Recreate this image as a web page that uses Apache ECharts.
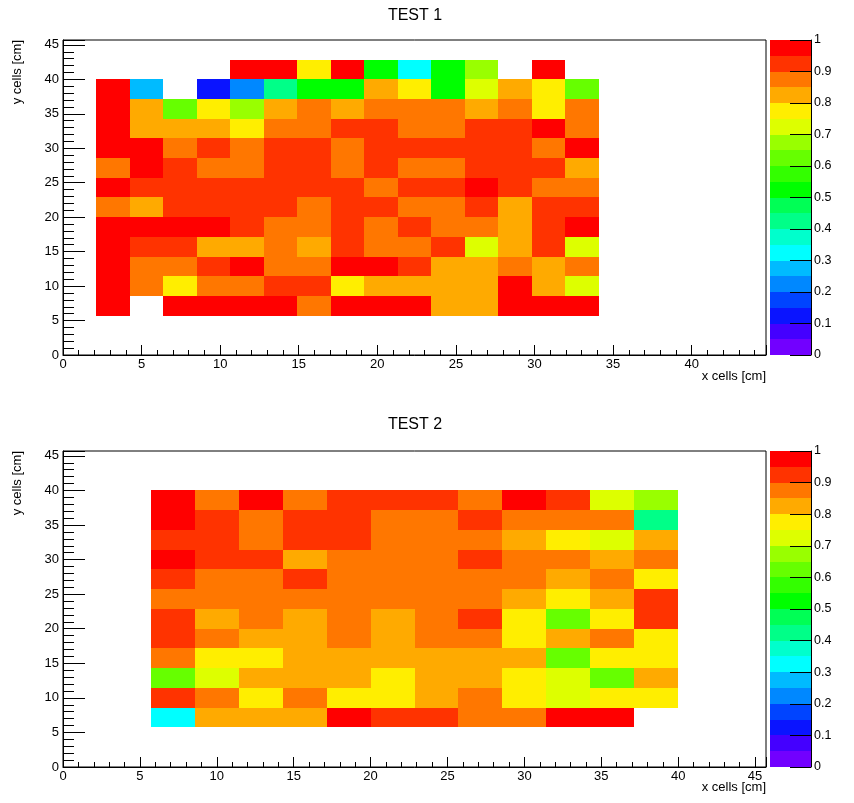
<!DOCTYPE html>
<html>
<head>
<meta charset="utf-8">
<script src="https://cdn.jsdelivr.net/npm/echarts@6/dist/echarts.min.js"></script>
<style>
html, body { margin: 0; padding: 0; background: #fff; }
#main { width: 854px; height: 803px; }
</style>
</head>
<body>
<div id="main"></div>
<script>
// palette bands, bottom (0) to top (1), 20 contours
var bandLow = [0, 0.05, 0.1, 0.15, 0.2, 0.25, 0.3, 0.35, 0.4, 0.45,
               0.5, 0.55, 0.6, 0.65, 0.7, 0.75, 0.8, 0.85, 0.9, 0.95];
var palette = ['#7200ff', '#4400ff', '#0a14ff', '#0044ff', '#0088ff',
               '#00bbff', '#00ffff', '#00ffcc', '#00ff88', '#00ff55',
               '#00ff00', '#33ff00', '#66ff00', '#99ff00', '#ddff00',
               '#ffee00', '#ffaa00', '#ff7700', '#ff3300', '#ff0000'];

// TEST 1: 15 columns, 13 rows (listed top row first)
var test1Rows = [
  [null, null, null, null, .97, .97, .78, .97, .53, .33, .53, .68, null, .97, null],
  [.97, .28, null, .13, .23, .43, .53, .53, .83, .78, .53, .73, .83, .78, .63],
  [.97, .83, .63, .78, .68, .83, .88, .83, .88, .88, .88, .83, .88, .78, .88],
  [.97, .83, .83, .83, .78, .88, .88, .93, .93, .88, .88, .93, .93, .97, .88],
  [.97, .97, .88, .93, .88, .93, .93, .88, .93, .93, .93, .93, .93, .88, .97],
  [.88, .97, .93, .88, .88, .93, .93, .88, .93, .88, .88, .93, .93, .93, .83],
  [.97, .93, .93, .93, .93, .93, .93, .93, .88, .93, .93, .97, .93, .88, .88],
  [.88, .83, .93, .93, .93, .93, .88, .93, .93, .88, .88, .93, .83, .93, .93],
  [.97, .97, .97, .97, .93, .88, .88, .93, .88, .93, .88, .88, .83, .93, .97],
  [.97, .93, .93, .83, .83, .88, .83, .93, .88, .88, .93, .73, .83, .93, .73],
  [.97, .88, .88, .93, .97, .88, .88, .97, .97, .93, .83, .83, .88, .83, .88],
  [.97, .88, .78, .88, .88, .93, .93, .78, .83, .83, .83, .83, .97, .83, .73],
  [.97, null, .97, .97, .97, .97, .88, .97, .97, .97, .83, .83, .97, .97, .97]
];

// TEST 2: 12 columns, 12 rows (listed top row first)
var test2Rows = [
  [.97, .88, .97, .88, .93, .93, .93, .88, .97, .93, .73, .68],
  [.97, .93, .88, .93, .93, .88, .88, .93, .88, .88, .88, .43],
  [.93, .93, .88, .93, .93, .88, .88, .88, .83, .78, .73, .83],
  [.97, .93, .93, .83, .88, .88, .88, .93, .88, .88, .83, .88],
  [.93, .88, .88, .93, .88, .88, .88, .88, .88, .83, .88, .78],
  [.88, .88, .88, .88, .88, .88, .88, .88, .83, .78, .83, .93],
  [.93, .83, .88, .83, .88, .83, .88, .93, .78, .63, .78, .93],
  [.93, .88, .83, .83, .88, .83, .88, .88, .78, .83, .88, .78],
  [.88, .78, .78, .83, .83, .83, .83, .83, .83, .63, .78, .78],
  [.63, .73, .83, .83, .83, .78, .83, .83, .78, .73, .63, .83],
  [.93, .88, .78, .88, .78, .78, .83, .88, .78, .73, .78, .78],
  [.33, .83, .83, .83, .97, .93, .93, .88, .88, .97, .97, null]
];

// histogram binning (cm)
var test1XMax = 44.73, test1XBin = 44.73 / 21;
var test2XMax = 45.71;
var yMax = 45.71, yBin = 40 / 14;

function buildCells(rows, x0, y0, dx, dy) {
  var out = [];
  var n = rows.length;
  rows.forEach(function (row, r) {
    row.forEach(function (v, c) {
      if (v == null) return;
      out.push([x0 + c * dx, y0 + (n - 1 - r) * dy, v, dx, dy]);
    });
  });
  return out;
}

var test1Cells = buildCells(test1Rows, test1XBin, 2 * yBin, test1XBin, yBin);
var test2Cells = buildCells(test2Rows, 2 * yBin, 2 * yBin, yBin, yBin);
var barCells = bandLow.map(function (lo) { return [0, lo, lo + 0.025, 1, 0.05]; });

function renderCell(params, api) {
  var a = api.coord([api.value(0), api.value(1) + api.value(4)]);
  var b = api.coord([api.value(0) + api.value(3), api.value(1)]);
  var x = Math.round(a[0]), y = Math.round(a[1]);
  return {
    type: 'rect',
    shape: { x: x, y: y, width: Math.round(b[0]) - x, height: Math.round(b[1]) - y },
    style: { fill: api.visual('color') }
  };
}

var font = '"Liberation Sans", Arial, Helvetica, sans-serif';
var labelStyle = { color: '#000', fontSize: 13, fontFamily: font };

function every5(v) {
  return Math.abs(v - Math.round(v / 5) * 5) < 1e-6 ? String(Math.round(v)) : '';
}

function majorX(grid, max) {
  return {
    gridIndex: grid, type: 'value', position: 'bottom', min: 0, max: max, interval: 5,
    axisLine: { onZero: false, lineStyle: { color: '#000', width: 1 } },
    axisTick: { inside: true, length: 10, lineStyle: { color: '#000' } },
    axisLabel: Object.assign({ margin: 3, formatter: every5 }, labelStyle),
    splitLine: { show: false }
  };
}
function minorX(grid, max) {
  return {
    gridIndex: grid, type: 'value', position: 'bottom', min: 0, max: max, interval: 1,
    axisLine: { show: false, onZero: false },
    axisTick: { inside: true, length: 5, lineStyle: { color: '#000' } },
    axisLabel: { show: false }, splitLine: { show: false }
  };
}
function majorY(grid) {
  return {
    gridIndex: grid, type: 'value', position: 'left', min: 0, max: yMax, interval: 5,
    axisLine: { show: true, onZero: false, lineStyle: { color: '#000', width: 1 } },
    axisTick: { show: true, inside: true, length: 22, lineStyle: { color: '#000' } },
    axisLabel: Object.assign({ margin: 4, formatter: every5 }, labelStyle),
    splitLine: { show: false }
  };
}
function minorY(grid) {
  return {
    gridIndex: grid, type: 'value', position: 'left', min: 0, max: yMax, interval: 1,
    axisLine: { show: false, onZero: false },
    axisTick: { show: true, inside: true, length: 11, lineStyle: { color: '#000' } },
    axisLabel: { show: false }, splitLine: { show: false }
  };
}
function barX(grid) {
  return { gridIndex: grid, type: 'value', position: 'bottom', min: 0, max: 1, show: false,
           axisLine: { onZero: false } };
}
function barY(grid) {
  return {
    gridIndex: grid, type: 'value', min: 0, max: 1, interval: 0.1, position: 'right', z: 10,
    axisLine: { show: true, onZero: false, lineStyle: { color: '#000', width: 1 } },
    axisTick: { show: true, inside: true, length: 21, lineStyle: { color: '#000' } },
    axisLabel: Object.assign({ margin: 3 }, labelStyle, { fontSize: 12.5 }),
    splitLine: { show: false }
  };
}

var frame = { show: true, borderColor: '#000', borderWidth: 1, backgroundColor: '#fff', outerBoundsMode: 'none' };

var myChart = echarts.init(document.getElementById('main'));

var option = {
  animation: false,
  backgroundColor: '#fff',
  grid: [
    Object.assign({ left: 63, top: 40, width: 703, height: 315 }, frame),
    Object.assign({ left: 63, top: 451, width: 703, height: 316 }, frame),
    { left: 770, top: 40, width: 41, height: 315, outerBoundsMode: 'none' },
    { left: 770, top: 451, width: 41, height: 316, outerBoundsMode: 'none' }
  ],
  xAxis: [
    majorX(0, test1XMax), minorX(0, test1XMax),
    majorX(1, test2XMax), minorX(1, test2XMax),
    barX(2), barX(3)
  ],
  yAxis: [
    majorY(0), minorY(0),
    majorY(1), minorY(1),
    barY(2), barY(3)
  ],
  visualMap: {
    type: 'piecewise', show: false, dimension: 2, seriesIndex: [0, 1, 2, 3],
    pieces: bandLow.map(function (lo, i) {
      var p = { gte: lo, color: palette[i] };
      if (i < bandLow.length - 1) p.lt = bandLow[i + 1]; else p.lte = 1;
      return p;
    })
  },
  series: [
    { name: 'TEST 1', type: 'custom', xAxisIndex: 0, yAxisIndex: 0, renderItem: renderCell, data: test1Cells },
    { name: 'TEST 2', type: 'custom', xAxisIndex: 2, yAxisIndex: 2, renderItem: renderCell, data: test2Cells },
    { type: 'custom', xAxisIndex: 4, yAxisIndex: 4, renderItem: renderCell, data: barCells, z: 1 },
    { type: 'custom', xAxisIndex: 5, yAxisIndex: 5, renderItem: renderCell, data: barCells, z: 1 }
  ],
  graphic: [
    { type: 'text', x: 415, y: 16, style: { text: 'TEST 1', fill: '#000', font: '16px ' + font, align: 'center', verticalAlign: 'middle' } },
    { type: 'text', x: 415, y: 425, style: { text: 'TEST 2', fill: '#000', font: '16px ' + font, align: 'center', verticalAlign: 'middle' } },
    { type: 'text', x: 766, y: 376, style: { text: 'x cells [cm]', fill: '#000', font: '13px ' + font, align: 'right', verticalAlign: 'middle' } },
    { type: 'text', x: 766, y: 787, style: { text: 'x cells [cm]', fill: '#000', font: '13px ' + font, align: 'right', verticalAlign: 'middle' } },
    { type: 'text', x: 17, y: 40, rotation: Math.PI / 2, style: { text: 'y cells [cm]', fill: '#000', font: '13px ' + font, align: 'right', verticalAlign: 'middle' } },
    { type: 'text', x: 17, y: 451, rotation: Math.PI / 2, style: { text: 'y cells [cm]', fill: '#000', font: '13px ' + font, align: 'right', verticalAlign: 'middle' } }
  ]
};

myChart.setOption(option);
</script>
</body>
</html>
